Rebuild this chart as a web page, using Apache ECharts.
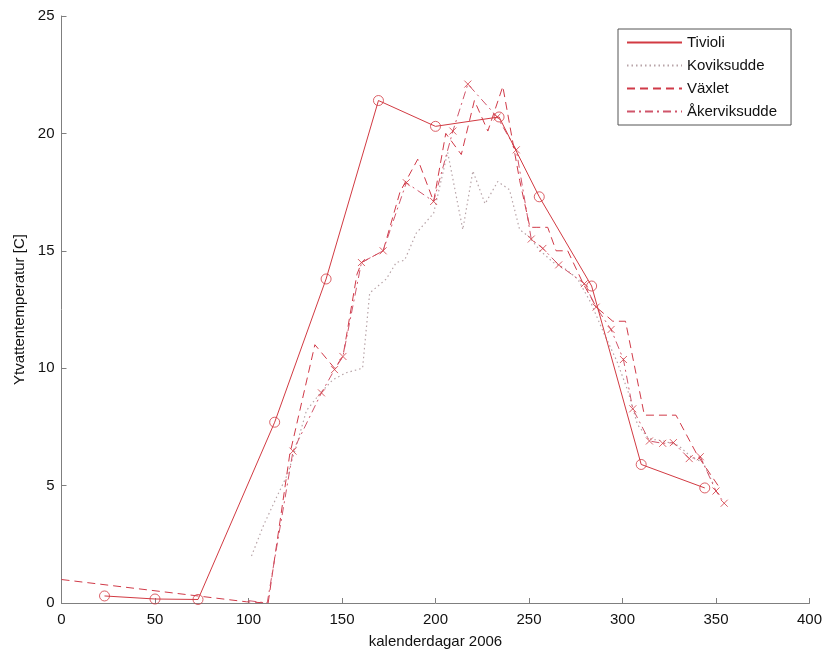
<!DOCTYPE html>
<html>
<head>
<meta charset="utf-8">
<script src="https://cdn.jsdelivr.net/npm/echarts@6/dist/echarts.min.js"></script>
<style>
  html, body { margin: 0; padding: 0; background: #fff; }
  #chart { width: 825px; height: 654px; }
</style>
</head>
<body>
<div id="chart"></div>
<script>
// Surface water temperature per station, day of year 2006
var tiviDay  = [23, 50, 73, 114, 141.5, 169.5, 200, 234, 255.5, 283.5, 310, 344];
var tiviTemp = [0.3, 0.17, 0.15, 7.7, 13.8, 21.4, 20.3, 20.7, 17.3, 13.5, 5.9, 4.9];

var kovDay  = [101.6, 108, 115, 121, 126, 131, 138, 145, 152, 161, 164.8, 173.7, 179, 183.5, 189.7, 199, 206.5, 214.6, 220, 226.5, 233.3, 239.6, 245, 250, 256, 263, 270, 276, 283, 290, 297, 303, 308, 314, 322, 330, 337, 343, 349];
var kovTemp = [2.0, 3.3, 4.5, 5.5, 6.8, 8.2, 8.9, 9.5, 9.8, 10.0, 13.2, 13.8, 14.5, 14.6, 15.75, 16.6, 19.2, 15.9, 18.4, 17.0, 17.95, 17.6, 15.9, 15.6, 15.0, 14.5, 14.2, 13.8, 12.8, 11.5, 10.3, 9.0, 7.6, 7.0, 6.9, 6.7, 6.2, 6.0, 5.0];

var vaxDay  = [0, 99, 110.5, 122, 135.5, 146, 150.5, 158, 160.5, 172, 181, 190.5, 199, 205.5, 213.8, 220.8, 228, 236, 245, 250.5, 253.8, 260, 264.5, 270.7, 279, 286, 294.8, 301.6, 311.7, 328.6, 340, 352];
var vaxTemp = [1.0, 0.05, 0.0, 6.3, 11.0, 10.0, 10.5, 14.0, 14.5, 15.0, 17.5, 18.9, 17.1, 20.0, 19.1, 21.4, 20.1, 22.0, 18.0, 16.0, 16.0, 16.0, 15.0, 15.0, 13.6, 12.6, 12.0, 12.0, 8.0, 8.0, 6.3, 4.9];

var akeDay  = [100, 110, 123.8, 139, 146, 150.5, 160.4, 172, 184.4, 199, 209.3, 217.3, 233, 243.2, 251.2, 257.4, 265.9, 279.6, 285.9, 293.9, 300.5, 305.5, 314.4, 321.5, 327.2, 335.7, 341.6, 350, 354.4];
var akeTemp = [0.1, 0.0, 6.47, 8.95, 9.94, 10.5, 14.5, 15.0, 17.9, 17.1, 20.1, 22.1, 20.7, 19.3, 15.5, 15.1, 14.4, 13.6, 12.6, 11.65, 10.37, 8.27, 6.9, 6.8, 6.83, 6.15, 6.23, 4.77, 4.25];

var xTicks = [0, 50, 100, 150, 200, 250, 300, 350, 400];
var yTicks = [0, 5, 10, 15, 20, 25];

function pairs(xs, ys) {
  return xs.map(function (x, i) { return [x, ys[i]]; });
}

var FONT = 'Liberation Sans';
var RED = '#d23a42';
var AXIS = '#7f7f7f';
var crossPath = 'path://M0,0L10,10M10,0L0,10';

var chart = echarts.init(document.getElementById('chart'), null, { renderer: 'canvas' });

chart.setOption({
  backgroundColor: '#ffffff',
  animation: false,
  textStyle: { fontFamily: FONT },
  grid: { left: 61.5, right: 15, top: 16, bottom: 50, containLabel: false },
  legend: {
    data: ['Tivioli', 'Koviksudde', 'Växlet', 'Åkerviksudde'],
    orient: 'vertical',
    left: 618,
    top: 29,
    itemWidth: 55,
    itemHeight: 10,
    itemGap: 8,
    padding: [6, 14, 6, 8],
    borderColor: '#555',
    borderWidth: 1,
    backgroundColor: '#fff',
    itemStyle: { opacity: 0 },
    textStyle: { fontFamily: FONT, fontSize: 15, color: '#111' }
  },
  xAxis: {
    type: 'value',
    min: 0, max: 400, interval: 50,
    name: 'kalenderdagar 2006',
    nameLocation: 'middle',
    nameGap: 31,
    nameTextStyle: { fontFamily: FONT, fontSize: 15, color: '#111' },
    axisLine: { show: true, onZero: false, lineStyle: { color: AXIS, width: 1 } },
    axisTick: { show: true, inside: true, length: 5, lineStyle: { color: AXIS } },
    axisLabel: {
      margin: 9, fontFamily: FONT, fontSize: 15, color: '#111',
      formatter: function (v) { return xTicks.indexOf(v) >= 0 ? String(v) : ''; }
    },
    splitLine: { show: false }
  },
  yAxis: {
    type: 'value',
    min: 0, max: 25, interval: 5,
    name: 'Ytvattentemperatur [C]',
    nameLocation: 'middle',
    nameGap: 34,
    nameRotate: 90,
    nameTextStyle: { fontFamily: FONT, fontSize: 15, color: '#111' },
    axisLine: { show: true, lineStyle: { color: AXIS, width: 1 } },
    axisTick: { show: true, inside: true, length: 5, lineStyle: { color: AXIS } },
    axisLabel: {
      margin: 7, fontFamily: FONT, fontSize: 15, color: '#111',
      formatter: function (v) { return yTicks.indexOf(v) >= 0 ? String(v) : ''; }
    },
    splitLine: { show: false }
  },
  series: [
    {
      name: 'Tivioli', type: 'line', data: pairs(tiviDay, tiviTemp),
      symbol: 'none', color: RED,
      lineStyle: { color: RED, width: 1, type: 'solid' }, z: 5
    },
    {
      name: 'Koviksudde', type: 'line', data: pairs(kovDay, kovTemp),
      symbol: 'none', color: '#b8a4a8',
      lineStyle: { color: '#b8a4a8', width: 1.2, type: [1.5, 3] }, z: 2
    },
    {
      name: 'Växlet', type: 'line', data: pairs(vaxDay, vaxTemp),
      symbol: 'none', color: '#d03a48',
      lineStyle: { color: '#d03a48', width: 1, type: [8, 5] }, z: 3
    },
    {
      name: 'Åkerviksudde', type: 'line', data: pairs(akeDay, akeTemp),
      symbol: 'none', color: '#d0556a',
      lineStyle: { color: '#d0556a', width: 1, type: [8, 4, 2, 4] }, z: 4
    },
    {
      name: 'Tivioli-punkter', type: 'scatter', data: pairs(tiviDay, tiviTemp),
      symbol: 'circle', symbolSize: 10, silent: true,
      itemStyle: { color: 'rgba(0,0,0,0)', borderColor: RED, borderWidth: 1 }, z: 6
    },
    {
      name: 'Åkerviksudde-punkter', type: 'scatter', data: pairs(akeDay.slice(2), akeTemp.slice(2)),
      symbol: crossPath, symbolSize: 7, silent: true,
      itemStyle: { color: 'rgba(0,0,0,0)', borderColor: RED, borderWidth: 1 }, z: 6
    }
  ]
});
</script>
</body>
</html>
